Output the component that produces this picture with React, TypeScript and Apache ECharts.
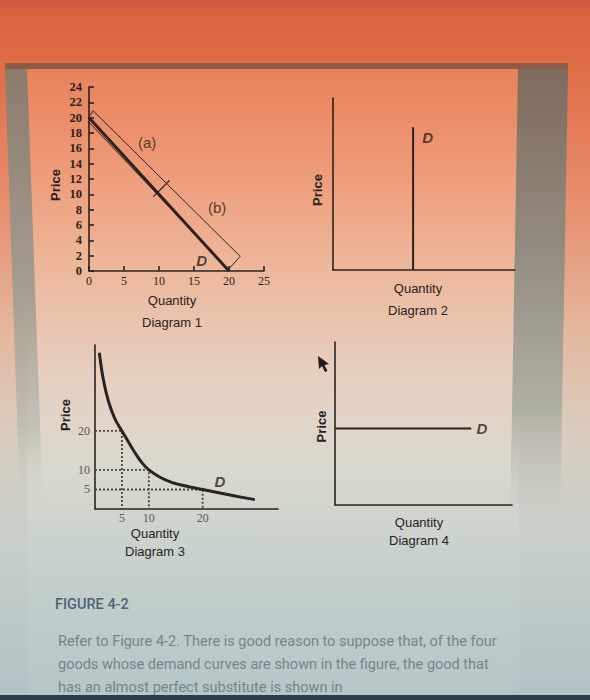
import React, { useEffect, useRef } from "react";
import * as echarts from "echarts";

const INK = "#2b2321";
const SOFT_INK = "#5a5550";

// ---------- Diagram 1 ----------
const d1XTickStep = 5;
const d1YTickStep = 2;
const d1XMax = 25;
const d1YMax = 24;
const d1Demand: number[][] = [[0, 20], [20, 0]];
const d1Band: number[][] = [[-0.3, 19.7], [0.6, 20.9], [21.6, 1.9], [19.9, 0.2], [-0.3, 19.7]];
const d1Divider: number[][] = [[9.2, 9.7], [11.5, 11.8]];
const d1Notes: (number | string)[][] = [[8.3, 16.8, "(a)"], [18.3, 8.3, "(b)"]];
const d1DemandTag: (number | string)[][] = [[16.1, 1.4, "D"]];

// ---------- Diagram 2 ----------
const d2Max = 10;
const d2Demand: number[][] = [[4.4, 0], [4.4, 8.3]];
const d2DemandTag: (number | string)[][] = [[5.2, 7.7, "D"]];

// ---------- Diagram 3 ----------
const d3XMax = 34;
const d3YMax = 42;
const d3Curve: number[][] = [
  [0.8, 40], [1.5, 33.5], [2.5, 27.6], [3.7, 23.1], [5, 20],
  [6.25, 17.1], [7.5, 14.25], [8.75, 11.8], [10, 10],
  [12, 8.2], [14, 6.95], [16, 6.15], [18, 5.55], [20, 5],
  [23.2, 4.1], [26.5, 3.2], [29.7, 2.4],
];
const d3Marked: number[][] = [[5, 20], [10, 10], [20, 5]];
const d3XTicks = [5, 10, 20];
const d3YTicks = [5, 10, 20];
const d3DemandTag: (number | string)[][] = [[23.2, 7.0, "D"]];

// ---------- Diagram 4 ----------
const d4Max = 10;
const d4Demand: number[][] = [[0, 4.7], [7.7, 4.7]];
const d4DemandTag: (number | string)[][] = [[8.3, 4.7, "D"]];

// ---------- Texts ----------
const figureTitle = "FIGURE 4-2";
const questionLines = [
  "Refer to Figure 4-2. There is good reason to suppose that, of the four",
  "goods whose demand curves are shown in the figure, the good that",
  "has an almost perfect substitute is shown in",
];

const lineStyle = { color: INK, width: 1.6 };

function plainAxis(gridIndex: number, max: number, name: string, extra: any = {}) {
  return {
    gridIndex,
    type: "value",
    min: 0,
    max,
    axisLine: { show: true, onZero: false, lineStyle },
    axisTick: { show: false },
    axisLabel: { show: false },
    splitLine: { show: false },
    name,
    nameLocation: "middle",
    ...extra,
  };
}

function tagSeries(xi: number, data: (number | string)[][], italic: boolean, size: number) {
  return {
    type: "scatter",
    xAxisIndex: xi,
    yAxisIndex: xi,
    data,
    symbolSize: 1,
    silent: true,
    itemStyle: { color: "rgba(0,0,0,0)" },
    label: {
      show: true,
      position: "inside",
      formatter: (p: any) => p.data[2],
      color: INK,
      fontFamily: "Liberation Sans",
      fontSize: size,
      fontStyle: italic ? "italic" : "normal",
      fontWeight: italic ? "bold" : "normal",
    },
  };
}

function lineSeries(xi: number, data: number[][], width: number, extra: any = {}) {
  return {
    type: "line",
    xAxisIndex: xi,
    yAxisIndex: xi,
    data,
    symbol: "none",
    silent: true,
    clip: false,
    lineStyle: { color: INK, width },
    ...extra,
  };
}

const xNameStyle = (lh: number, pad: number) => ({
  fontFamily: "Liberation Sans",
  fontSize: 13,
  color: INK,
  lineHeight: lh,
  padding: [0, pad, 0, 0],
});
const yNameStyle = (padding: number[]) => ({
  fontFamily: "Liberation Sans",
  fontSize: 13,
  fontWeight: "bold",
  color: INK,
  padding,
});

function lin(stops: [number, string][]) {
  return {
    type: "linear",
    x: 0,
    y: 0,
    x2: 0,
    y2: 1,
    colorStops: stops.map(([offset, color]) => ({ offset, color })),
  };
}

export default function App() {
  const ref = useRef<HTMLDivElement>(null);

  useEffect(() => {
    if (!ref.current) return;
    const chart = echarts.init(ref.current, undefined, { renderer: "svg" });

    const background: any[] = [
      {
        type: "rect",
        z: -100,
        silent: true,
        shape: { x: 0, y: 0, width: 590, height: 700 },
        style: {
          fill: lin([
            [0, "#cc583c"],
            [0.015, "#da633f"],
            [0.09, "#df6c47"],
            [0.3, "#e79070"],
            [0.48, "#e4b9a0"],
            [0.62, "#d9cdbf"],
            [0.78, "#c6cfca"],
            [1, "#b2c2c5"],
          ]),
        },
      },
      {
        type: "rect",
        z: -99,
        silent: true,
        shape: { x: 27, y: 69, width: 492, height: 626 },
        style: {
          fill: lin([
            [0, "#e9825b"],
            [0.13, "#ed9572"],
            [0.3, "#eeb597"],
            [0.5, "#e6d1c3"],
            [0.64, "#d9d9cd"],
            [0.78, "#c7d1cd"],
            [1, "#b6c6c8"],
          ]),
        },
      },
      {
        type: "polygon",
        z: -98,
        silent: true,
        shape: { points: [[5, 69], [27, 69], [43, 505], [20, 505]] },
        style: {
          fill: lin([
            [0, "#8a7b6d"],
            [0.5, "#a59d90"],
            [0.82, "rgba(176,180,170,0.6)"],
            [1, "rgba(200,205,198,0)"],
          ]),
        },
      },
      {
        type: "polygon",
        z: -98,
        silent: true,
        shape: { points: [[518, 69], [568, 69], [560, 525], [510, 525]] },
        style: {
          fill: lin([
            [0, "#7e6b5d"],
            [0.4, "#948c80"],
            [0.75, "#b1b0a4"],
            [1, "rgba(195,202,198,0)"],
          ]),
        },
      },
      {
        type: "rect",
        z: -97,
        silent: true,
        shape: { x: 5, y: 63, width: 563, height: 6 },
        style: { fill: "#8b5c47" },
      },
      {
        type: "rect",
        z: -97,
        silent: true,
        shape: { x: 0, y: 695, width: 590, height: 5 },
        style: { fill: "#2e3d4d" },
      },
      {
        type: "polygon",
        z: 50,
        silent: true,
        shape: {
          points: [[318, 356], [319, 369], [322, 366], [325, 372], [327.5, 371], [324.5, 365], [329, 364]],
        },
        style: { fill: "#1f1b1a" },
      },
      {
        type: "text",
        z: 50,
        silent: true,
        style: {
          text: figureTitle,
          x: 55,
          y: 604,
          verticalAlign: "middle",
          fill: "#4d6370",
          font: "500 14.5px Roboto",
        },
      },
      ...questionLines.map((t, i) => ({
        type: "text",
        z: 50,
        silent: true,
        style: {
          text: t,
          x: 58,
          y: 641 + i * 23,
          verticalAlign: "middle",
          fill: "#748589",
          font: "400 14.5px Roboto",
        },
      })),
    ];

    const option: any = {
      animation: false,
      graphic: background,
      grid: [
        { left: 89, top: 87, width: 175, height: 184 },
        { left: 333, top: 98, width: 182, height: 172 },
        { left: 95, top: 345, width: 183, height: 164 },
        { left: 335, top: 342, width: 177, height: 163 },
      ],
      xAxis: [
        {
          gridIndex: 0,
          type: "value",
          min: 0,
          max: d1XMax,
          interval: d1XTickStep,
          axisLine: { show: true, onZero: false, lineStyle },
          axisTick: { show: true, inside: true, length: 5, lineStyle },
          axisLabel: { margin: 4, fontFamily: "Liberation Serif", fontSize: 12, color: INK },
          splitLine: { show: false },
          name: "Quantity\nDiagram 1",
          nameLocation: "middle",
          nameGap: 18,
          nameTextStyle: xNameStyle(22, 9),
        },
        plainAxis(1, d2Max, "Quantity\nDiagram 2", { nameGap: 7, nameTextStyle: xNameStyle(22, 12) }),
        {
          ...plainAxis(2, d3XMax, "Quantity\nDiagram 3", { nameGap: 15, nameTextStyle: xNameStyle(18, 63) }),
          axisLabel: {
            show: true,
            customValues: d3XTicks,
            margin: 3,
            fontFamily: "Liberation Serif",
            fontSize: 12,
            color: SOFT_INK,
          },
        },
        plainAxis(3, d4Max, "Quantity\nDiagram 4", { nameGap: 8, nameTextStyle: xNameStyle(18, 9) }),
      ],
      yAxis: [
        {
          gridIndex: 0,
          type: "value",
          min: 0,
          max: d1YMax,
          interval: d1YTickStep,
          axisLine: { show: true, onZero: false, lineStyle },
          axisTick: { show: true, inside: true, length: 5, lineStyle },
          axisLabel: {
            margin: 7,
            fontFamily: "Liberation Serif",
            fontWeight: "bold",
            fontSize: 12.5,
            color: INK,
          },
          splitLine: { show: false },
          name: "Price",
          nameLocation: "middle",
          nameRotate: 90,
          nameGap: 27,
          nameTextStyle: yNameStyle([0, 12, 0, 0]),
        },
        plainAxis(1, d2Max, "Price", { nameRotate: 90, nameGap: 9, nameTextStyle: yNameStyle([0, 12, 0, 0]) }),
        {
          ...plainAxis(2, d3YMax, "Price", { nameRotate: 90, nameGap: 23, nameTextStyle: yNameStyle([0, 0, 0, 24]) }),
          axisLabel: {
            show: true,
            customValues: d3YTicks,
            margin: 5,
            fontFamily: "Liberation Serif",
            fontSize: 12,
            color: SOFT_INK,
          },
        },
        plainAxis(3, d4Max, "Price", { nameRotate: 90, nameGap: 7, nameTextStyle: yNameStyle([0, 6, 0, 0]) }),
      ],
      series: [
        // Diagram 1
        lineSeries(0, d1Band, 1),
        lineSeries(0, d1Demand, 3),
        lineSeries(0, d1Divider, 1.2),
        tagSeries(0, d1Notes, false, 15),
        tagSeries(0, d1DemandTag, true, 15),
        // Diagram 2
        lineSeries(1, d2Demand, 2),
        tagSeries(1, d2DemandTag, true, 15),
        // Diagram 3
        ...d3Marked.map(([q, p]) =>
          lineSeries(2, [[0, p], [q, p], [q, 0]], 1.8, {
            lineStyle: { color: "#4a4542", width: 1.8, type: [2, 2] },
          })
        ),
        lineSeries(2, d3Curve, 3, { smooth: 0.3 }),
        tagSeries(2, d3DemandTag, true, 15),
        // Diagram 4
        lineSeries(3, d4Demand, 2),
        tagSeries(3, d4DemandTag, true, 15),
      ],
    };

    chart.setOption(option);
    return () => chart.dispose();
  }, []);

  return (
    <div
      ref={ref}
      style={{ position: "absolute", left: 0, top: 0, width: 590, height: 700 }}
    />
  );
}
